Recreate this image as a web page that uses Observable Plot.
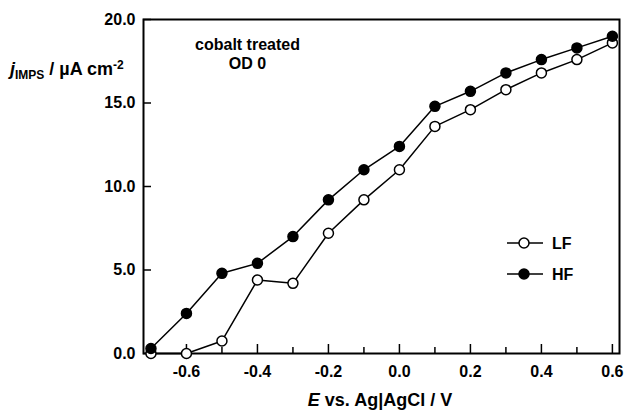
<!DOCTYPE html>
<html>
<head>
<meta charset="utf-8">
<script src="https://cdn.jsdelivr.net/npm/d3@7"></script>
<script src="https://cdn.jsdelivr.net/npm/@observablehq/plot@0.6"></script>
<style>
  html, body { margin: 0; padding: 0; background: #fff; }
</style>
</head>
<body>
<div id="chart"></div>
<script>
// Applied potential (V vs. Ag|AgCl)
const potential = [-0.7, -0.6, -0.5, -0.4, -0.3, -0.2, -0.1, 0.0, 0.1, 0.2, 0.3, 0.4, 0.5, 0.6];
// IMPS photocurrent, low-frequency intercept (µA cm^-2)
const jLF = [0.0, 0.0, 0.75, 4.4, 4.2, 7.2, 9.2, 11.0, 13.6, 14.6, 15.8, 16.8, 17.6, 18.6];
// IMPS photocurrent, high-frequency intercept (µA cm^-2)
const jHF = [0.3, 2.4, 4.8, 5.4, 7.0, 9.2, 11.0, 12.4, 14.8, 15.7, 16.8, 17.6, 18.3, 19.0];

const xMajorTicks = [-0.6, -0.4, -0.2, 0.0, 0.2, 0.4, 0.6];
const xMinorTicks = [-0.7, -0.5, -0.3, -0.1, 0.1, 0.3, 0.5];
const yTicks = [0, 5, 10, 15, 20];
const seriesNames = ["LF", "HF"];

const lf = potential.map((E, i) => ({E, j: jLF[i]}));
const hf = potential.map((E, i) => ({E, j: jHF[i]}));

const font = "'Liberation Sans', Arial, Helvetica, sans-serif";
const W = 625, H = 410;
const mL = 143, mR = 6, mT = 19, mB = 57;
const frameW = W - mL - mR, frameH = H - mT - mB;

const chart = Plot.plot({
  width: W,
  height: H,
  marginLeft: mL,
  marginRight: mR,
  marginTop: mT,
  marginBottom: mB,
  style: {fontFamily: font, fontWeight: "bold", fontSize: "16px", color: "#000", background: "#fff"},
  x: {domain: [-0.721, 0.62], ticks: xMajorTicks, tickSize: 0, tickPadding: 12,
      tickFormat: d => d.toFixed(1), label: null},
  y: {domain: [0, 20], ticks: yTicks, tickSize: 0, tickPadding: 8,
      tickFormat: d => d.toFixed(1), label: null},
  marks: [
    // inward tick marks
    Plot.tickX(xMajorTicks, {x: d => d, insetTop: frameH - 9, stroke: "#000", strokeWidth: 1.5}),
    Plot.tickX(xMinorTicks, {x: d => d, insetTop: frameH - 6, stroke: "#000", strokeWidth: 1.5}),
    Plot.tickY(yTicks, {y: d => d, insetRight: frameW - 8, stroke: "#000", strokeWidth: 1.5}),
    Plot.frame({stroke: "#000", strokeWidth: 2}),
    // series
    Plot.line(lf, {x: "E", y: "j", stroke: "#000", strokeWidth: 1.5}),
    Plot.dot(lf, {x: "E", y: "j", r: 5, fill: "#fff", stroke: "#000", strokeWidth: 1.5}),
    Plot.line(hf, {x: "E", y: "j", stroke: "#000", strokeWidth: 1.5}),
    Plot.dot(hf, {x: "E", y: "j", r: 5, fill: "#000", stroke: "#000", strokeWidth: 1.5}),
    // sample annotation
    Plot.text(["cobalt treated\nOD 0"], {
      frameAnchor: "top-left", dx: 104, dy: 17, textAnchor: "middle",
      lineAnchor: "top", lineHeight: 1.2, fontSize: 16, fontWeight: "bold", fill: "#000"
    })
  ]
});

const svg = d3.select(chart);

// y-axis title: j_IMPS / µA cm^-2
const yt = svg.append("text")
  .attr("x", 10).attr("y", 75).attr("text-anchor", "start")
  .attr("font-family", font).attr("font-weight", "bold").attr("font-size", 18).attr("fill", "#000");
yt.append("tspan").attr("font-style", "italic").text("j");
yt.append("tspan").attr("font-size", 12).attr("dy", 4).text("IMPS");
yt.append("tspan").attr("dy", -4).text(" / \u00b5A cm");
yt.append("tspan").attr("font-size", 12).attr("dy", -6).text("-2");

// x-axis title: E vs. Ag|AgCl / V
const xt = svg.append("text")
  .attr("x", 380).attr("y", 406).attr("text-anchor", "middle")
  .attr("font-family", font).attr("font-weight", "bold").attr("font-size", 18).attr("fill", "#000");
xt.append("tspan").attr("font-style", "italic").text("E");
xt.append("tspan").text(" vs. Ag|AgCl / V");

// legend
const legend = svg.append("g").attr("font-family", font).attr("font-weight", "bold")
  .attr("font-size", 16).attr("text-anchor", "start");
seriesNames.forEach((name, i) => {
  const y = 243 + i * 31;
  legend.append("line").attr("x1", 507).attr("x2", 543).attr("y1", y).attr("y2", y)
    .attr("stroke", "#000").attr("stroke-width", 1.5);
  legend.append("circle").attr("cx", 524).attr("cy", y).attr("r", 5)
    .attr("fill", name === "LF" ? "#fff" : "#000").attr("stroke", "#000").attr("stroke-width", 1.5);
  legend.append("text").attr("x", 552).attr("y", y).attr("dy", "0.36em").attr("fill", "#000").text(name);
});

document.getElementById("chart").appendChild(chart);
</script>
</body>
</html>
